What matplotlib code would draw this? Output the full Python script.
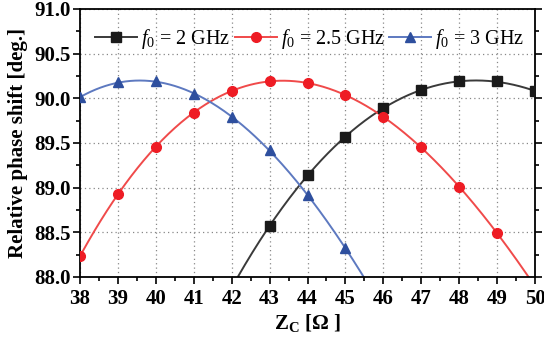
import numpy as np
import matplotlib
matplotlib.use("Agg")
import matplotlib.pyplot as plt
from matplotlib.ticker import MultipleLocator

plt.rcParams['font.family'] = ['Liberation Serif', 'DejaVu Serif']
plt.rcParams['mathtext.fontset'] = 'custom'
plt.rcParams['mathtext.it'] = 'Liberation Serif:italic'
plt.rcParams['mathtext.rm'] = 'Liberation Serif'
plt.rcParams['mathtext.bf'] = 'Liberation Serif:bold'

zc_2 = [43, 44, 45, 46, 47, 48, 49, 50]
ph_2 = [88.57, 89.14, 89.57, 89.89, 90.09, 90.19, 90.19, 90.08]
zc_25 = [38, 39, 40, 41, 42, 43, 44, 45, 46, 47, 48, 49]
ph_25 = [88.23, 88.93, 89.46, 89.84, 90.08, 90.19, 90.17, 90.04, 89.79, 89.45, 89.01, 88.49]
zc_3 = [38, 39, 40, 41, 42, 43, 44, 45]
ph_3 = [90.01, 90.18, 90.19, 90.05, 89.79, 89.42, 88.92, 88.32]

labels = [r'$f_0$ = 2 GHz', r'$f_0$ = 2.5 GHz', r'$f_0$ = 3 GHz']
mcolors = ['#1a1a1a', '#ee1c24', '#2e4f9e']
lcolors = ['#3a3a3a', '#f04a4a', '#5d79c0']
markers = ['s', 'o', '^']

fig = plt.figure(figsize=(5.44, 3.45), dpi=100)
ax = fig.add_axes([80/544, 1-277/345, 455/544, 268/345])

series = [(zc_2, ph_2), (zc_25, ph_25), (zc_3, ph_3)]
for (x, y), lab, mc, lc, m in zip(series, labels, mcolors, lcolors, markers):
    x = np.array(x, float); y = np.array(y, float)
    c = np.polyfit(x, y, 3)
    xs = np.linspace(37.5, 50.5, 400)
    ax.plot(xs, np.polyval(c, xs), color=lc, lw=1.4, zorder=2)
    ax.plot(x, y, ls='none', marker=m, ms=7, color=mc, zorder=3)
    ax.plot([], [], color=lc, lw=1.4, marker=m, ms=7, mfc=mc, mec=mc, label=lab)

ax.set_xlim(38, 50)
ax.set_ylim(88.0, 91.0)
ax.xaxis.set_major_locator(MultipleLocator(1))
ax.xaxis.set_minor_locator(MultipleLocator(0.5))
ax.yaxis.set_major_locator(MultipleLocator(0.5))
ax.yaxis.set_minor_locator(MultipleLocator(0.25))
ax.yaxis.set_major_formatter(matplotlib.ticker.FormatStrFormatter('%.1f'))
ax.grid(True, which='major', ls=(0, (1, 2.5)), color='#888888', lw=0.9)
ax.tick_params(which='both', direction='out', top=False, right=True, labelsize=15, width=1.2)
ax.tick_params(which='major', length=5, pad=2)
ax.tick_params(axis='x', which='major', pad=4)
ax.tick_params(which='minor', length=3)
for lbl in ax.get_xticklabels() + ax.get_yticklabels():
    lbl.set_fontweight('bold')
for s in ax.spines.values():
    s.set_linewidth(1.3)

ax.set_xlabel(r'Z$_\mathbf{C}$ [Ω ]', fontsize=15, fontweight='bold', labelpad=2)
ax.set_ylabel('Relative phase shift [deg.]', fontsize=15, fontweight='bold', labelpad=4)

leg = ax.legend(loc='upper center', bbox_to_anchor=(0.505, 0.985), ncol=3, frameon=False,
                fontsize=14.5, handlelength=2.1, columnspacing=0.2, handletextpad=0.2,
                borderaxespad=0.3)

fig.savefig('out.png', dpi=100)
